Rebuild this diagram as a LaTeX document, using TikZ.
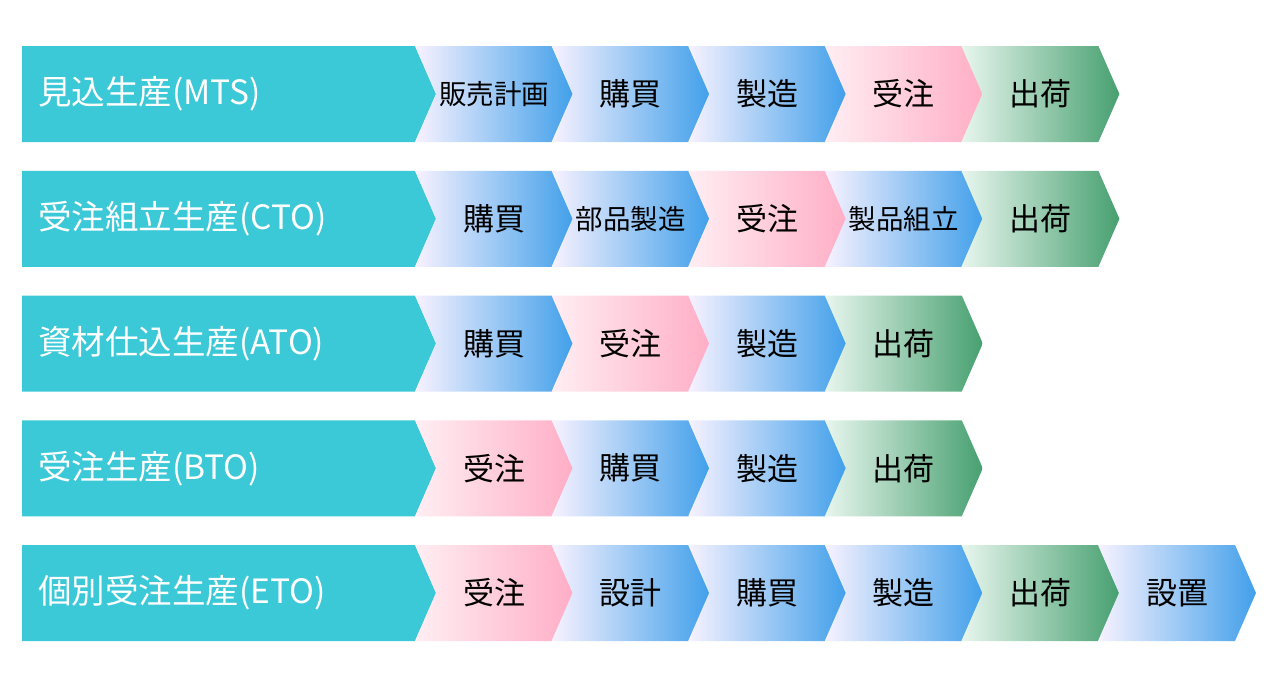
\documentclass[tikz,border=0pt]{standalone}
\usepackage{fontspec}
\usepackage{tikz}
\newfontfamily\jpfont{Noto Sans CJK JP}

\definecolor{headcyan}{HTML}{3BC8D7}
\definecolor{bluelo}{HTML}{F8F2FF}
\definecolor{bluemid}{HTML}{B6DAFA}
\definecolor{bluehi}{HTML}{42A0EA}
\definecolor{pinklo}{HTML}{FFEEF3}
\definecolor{pinkmid}{HTML}{FFCADA}
\definecolor{pinkhi}{HTML}{FFAEC6}
\definecolor{greenlo}{HTML}{E8F6EE}
\definecolor{greenmid}{HTML}{C4E4D1}
\definecolor{greenhi}{HTML}{47A070}

\tikzset{
	headbox/.style={fill=headcyan},
	headtext/.style={font=\jpfont\fontsize{33.5}{33.5}\selectfont, text=white, anchor=west, inner sep=0pt},
	bluestage/.style={left color=bluelo, middle color=bluemid, right color=bluehi},
	pinkstage/.style={left color=pinklo, middle color=pinkmid, right color=pinkhi},
	greenstage/.style={left color=greenlo, middle color=greenmid, right color=greenhi},
	steptext/.style={font=\jpfont\fontsize{31}{31}\selectfont, inner sep=0pt},
	steptextsm/.style={font=\jpfont\fontsize{27.5}{27.5}\selectfont, inner sep=0pt},
}

% #1 row, #2 head label, #3 list of stage/textstyle/label
\newcommand{\stagerow}[3]{%
	\pgfmathsetmacro\ytop{46+124.75*#1}
	\path[headbox] (22,\ytop) -- (415,\ytop) -- (436,{\ytop+48}) -- (415,{\ytop+96}) -- (22,{\ytop+96}) -- cycle;
	\node[headtext] (h#1) at (38,{\ytop+48}) {#2};
	\foreach [count=\k from 0] \st/\ts/\lb in {#3} {
		\pgfmathsetmacro\xl{415+136.6*\k}
		\path[\st] (\xl,\ytop) -- ++(137,0) -- ++(21,48) -- ++(-21,48) -- ++(-137,0) -- ++(21,-48) -- cycle;
		\node[\ts] (s#1-\k) at ({\xl+79},{\ytop+48}) {\lb};
	}
}

\begin{document}
\begin{tikzpicture}[x=1pt, y=-1pt]
	\useasboundingbox (0,0) rectangle (1278,696);
	\stagerow{0}{見込生産(MTS)}{bluestage/steptextsm/販売計画, bluestage/steptext/購買, bluestage/steptext/製造, pinkstage/steptext/受注, greenstage/steptext/出荷}
	\stagerow{1}{受注組立生産(CTO)}{bluestage/steptext/購買, bluestage/steptextsm/部品製造, pinkstage/steptext/受注, bluestage/steptextsm/製品組立, greenstage/steptext/出荷}
	\stagerow{2}{資材仕込生産(ATO)}{bluestage/steptext/購買, pinkstage/steptext/受注, bluestage/steptext/製造, greenstage/steptext/出荷}
	\stagerow{3}{受注生産(BTO)}{pinkstage/steptext/受注, bluestage/steptext/購買, bluestage/steptext/製造, greenstage/steptext/出荷}
	\stagerow{4}{個別受注生産(ETO)}{pinkstage/steptext/受注, bluestage/steptext/設計, bluestage/steptext/購買, bluestage/steptext/製造, greenstage/steptext/出荷, bluestage/steptext/設置}
\end{tikzpicture}
\end{document}
